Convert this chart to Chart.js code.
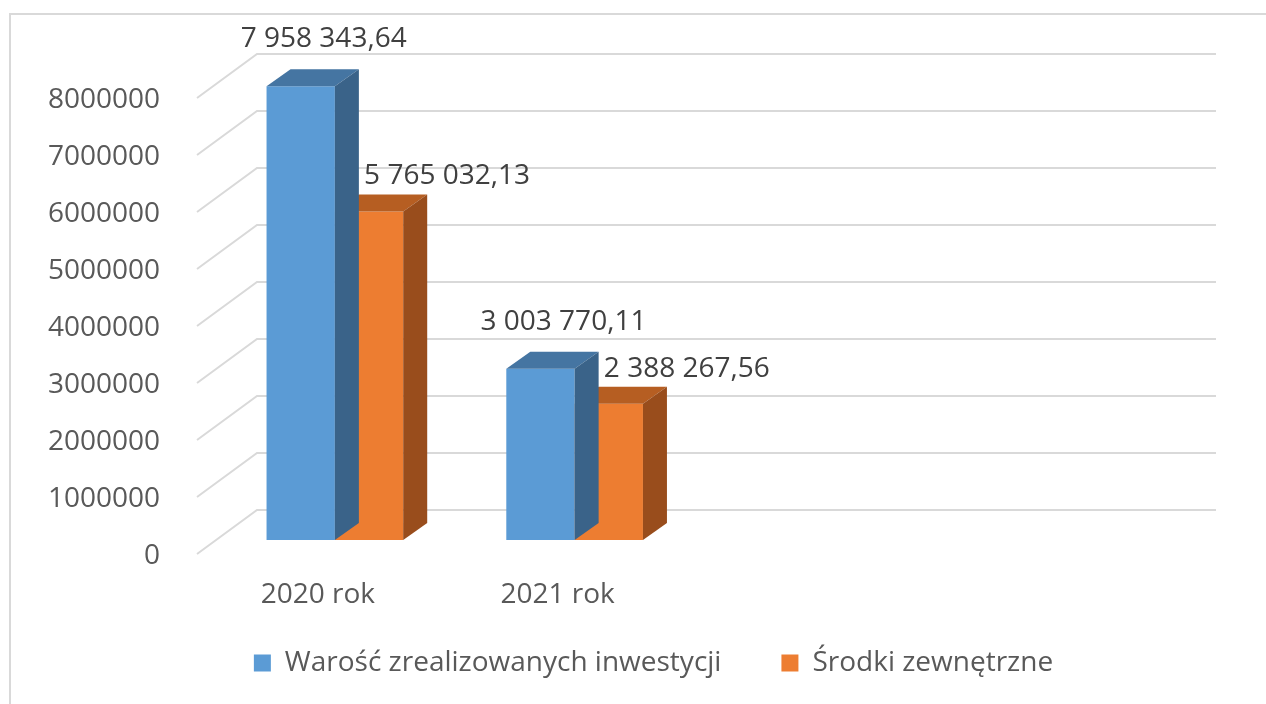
<!DOCTYPE html>
<html>
<head>
<meta charset="utf-8">
<script src="https://cdn.jsdelivr.net/npm/chart.js@4"></script>
<style>
  html, body { margin: 0; padding: 0; background: #fff; }
  #wrap { width: 1266px; height: 704px; }
</style>
</head>
<body>
<div id="wrap"><canvas id="chart" width="1266" height="704"></canvas></div>
<script>
// data
const categories = ['2020 rok', '2021 rok', '', ''];
const investValues = [7958343.64, 3003770.11, null, null];
const externalValues = [5765032.13, 2388267.56, null, null];
const seriesNames = ['Warość zrealizowanych inwestycji', 'Środki zewnętrzne'];
const yTicks = [0, 1000000, 2000000, 3000000, 4000000, 5000000, 6000000, 7000000, 8000000];

const fontFamily = '"Open Sans", "Noto Sans", sans-serif';
const gridColor = '#D9D9D9';
const textColor = '#595959';

// 3D look: front / top / side shade for each series
const shades = [
  { front: '#5B9BD5', top: '#4575A2', side: '#3A6389' },
  { front: '#ED7D31', top: '#B65E22', side: '#994D1C' }
];

// depth of the bars and of the back wall
const barDepth = { dx: 24, dy: 17 };
const wallBack = { dx: 42, dy: -30 };
const wallFront = { dx: -18, dy: 14 };

// where each series puts its value label, relative to the bar top
const labelShift = [{ dx: 23, dy: -47 }, { dx: 78, dy: -35 }];

function formatValue(v) {
  const parts = v.toFixed(2).split('.');
  const whole = parts[0].replace(/\B(?=(\d{3})+(?!\d))/g, ' ');
  return whole + ',' + parts[1];
}

const chart3d = {
  id: 'chart3d',
  beforeDraw(chart) {
    const ctx = chart.ctx;
    ctx.save();
    ctx.strokeStyle = gridColor;
    ctx.lineWidth = 2;
    ctx.strokeRect(10, 14, 1300, 800);
    ctx.restore();
  },
  beforeDatasetsDraw(chart) {
    // back wall lines with the diagonal floor/side edge
    const { ctx, chartArea } = chart;
    const y = chart.scales.y;
    ctx.save();
    ctx.strokeStyle = gridColor;
    ctx.lineWidth = 2;
    yTicks.forEach(t => {
      const py = y.getPixelForValue(t);
      ctx.beginPath();
      ctx.moveTo(chartArea.left + wallFront.dx, py + wallFront.dy);
      ctx.lineTo(chartArea.left + wallBack.dx, py + wallBack.dy);
      ctx.lineTo(chartArea.right + wallBack.dx, py + wallBack.dy);
      ctx.stroke();
    });
    // category labels sit under the front edge of the floor
    const x = chart.scales.x;
    ctx.font = '28px ' + fontFamily;
    ctx.fillStyle = textColor;
    ctx.textAlign = 'center';
    ctx.textBaseline = 'middle';
    categories.forEach((c, i) => {
      if (!c) return;
      ctx.fillText(c, x.getPixelForValue(i) + wallFront.dx + 1, y.getPixelForValue(0) + 55);
    });
    ctx.restore();
  },
  afterDatasetDraw(chart, args) {
    const ctx = chart.ctx;
    const sh = shades[args.index];
    const values = chart.data.datasets[args.index].data;
    ctx.save();
    args.meta.data.forEach((bar, j) => {
      if (values[j] == null) return;
      const half = bar.width / 2;
      const l = bar.x - half, r = bar.x + half, t = bar.y, b = bar.base;
      const { dx, dy } = barDepth;
      ctx.fillStyle = sh.top;
      ctx.beginPath();
      ctx.moveTo(l, t); ctx.lineTo(l + dx, t - dy); ctx.lineTo(r + dx, t - dy); ctx.lineTo(r, t);
      ctx.closePath(); ctx.fill();
      ctx.fillStyle = sh.side;
      ctx.beginPath();
      ctx.moveTo(r, t); ctx.lineTo(r + dx, t - dy); ctx.lineTo(r + dx, b - dy); ctx.lineTo(r, b);
      ctx.closePath(); ctx.fill();
    });
    ctx.restore();
  },
  afterDatasetsDraw(chart) {
    const ctx = chart.ctx;
    ctx.save();
    ctx.font = '28px ' + fontFamily;
    ctx.fillStyle = '#404040';
    ctx.textAlign = 'center';
    ctx.textBaseline = 'middle';
    chart.data.datasets.forEach((ds, i) => {
      const meta = chart.getDatasetMeta(i);
      meta.data.forEach((bar, j) => {
        const v = ds.data[j];
        if (v == null) return;
        ctx.fillText(formatValue(v), bar.x + labelShift[i].dx, bar.y + labelShift[i].dy);
      });
    });
    ctx.restore();
  }
};

new Chart(document.getElementById('chart'), {
  type: 'bar',
  data: {
    labels: categories,
    datasets: [
      { label: seriesNames[0], data: investValues, backgroundColor: shades[0].front },
      { label: seriesNames[1], data: externalValues, backgroundColor: shades[1].front }
    ]
  },
  options: {
    responsive: false,
    animation: false,
    devicePixelRatio: 1,
    layout: { padding: { top: 84, left: 42, right: 1, bottom: 17 } },
    datasets: { bar: { categoryPercentage: 0.57, barPercentage: 1.0 } },
    scales: {
      x: {
        grid: { display: false },
        border: { display: false },
        ticks: { display: false },
        afterFit(scale) { scale.height = 49; }
      },
      y: {
        min: 0,
        max: 8000000,
        grid: { display: false },
        border: { display: false },
        afterBuildTicks(scale) { scale.ticks = yTicks.map(v => ({ value: v })); },
        ticks: {
          color: textColor,
          font: { family: fontFamily, size: 28 },
          padding: 47,
          labelOffset: 16,
          callback: v => String(v)
        },
        afterFit(scale) { scale.width = 173; }
      },
      // empty spacer on the right so the floor ends where the picture's does
      yRight: {
        position: 'right',
        grid: { display: false },
        border: { display: false },
        ticks: { display: false },
        afterFit(scale) { scale.width = 91; }
      }
    },
    plugins: {
      tooltip: { enabled: false },
      legend: {
        position: 'bottom',
        labels: {
          color: textColor,
          font: { family: fontFamily, size: 28 },
          boxWidth: 17,
          boxHeight: 17,
          padding: 60
        }
      }
    }
  },
  plugins: [chart3d]
});
</script>
</body>
</html>
